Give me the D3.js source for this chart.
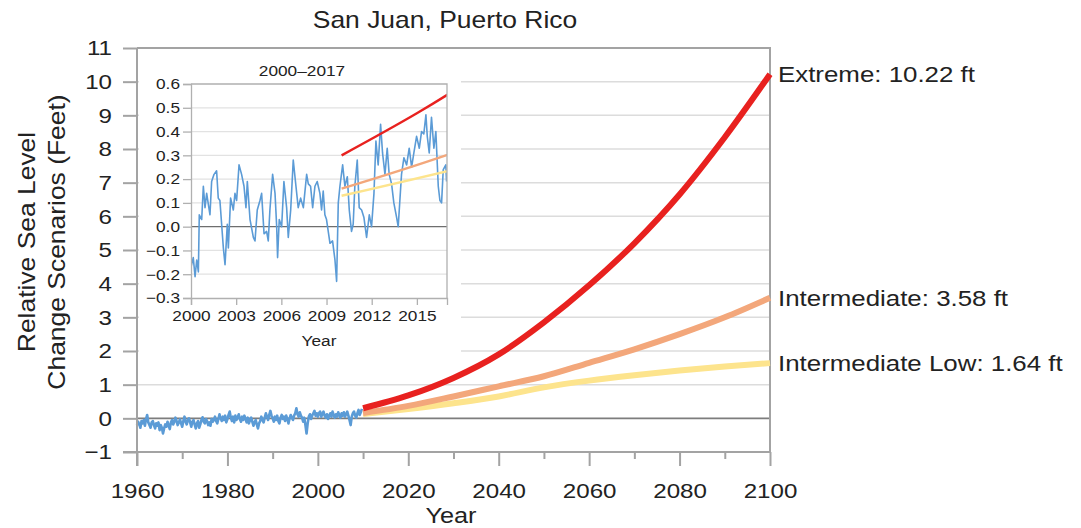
<!DOCTYPE html>
<html>
<head>
<meta charset="utf-8">
<script src="https://cdn.jsdelivr.net/npm/d3@7"></script>
<style>
  body { margin: 0; background: #fff; }
  text { font-family: "Liberation Sans", Arial, Helvetica, sans-serif; fill: #222; }
</style>
</head>
<body>
<svg id="chart" width="1081" height="528"></svg>
<script>
// ---- Data -------------------------------------------------------------
// Observed relative sea level, San Juan (feet), quarterly from 1960.0
const histStart = 1960, histStep = 0.25;
const histFeet = [
  -0.20,-0.10,-0.18,-0.28,-0.08,-0.15,-0.05,-0.22,-0.02,0.10,-0.12,-0.20,-0.28,-0.12,-0.08,-0.20,-0.30,-0.15,-0.22,-0.12,
  -0.35,-0.20,-0.28,-0.45,-0.30,-0.18,-0.25,-0.10,-0.22,-0.32,-0.12,-0.05,-0.18,-0.10,0.02,-0.08,-0.20,-0.12,-0.03,-0.15,
  -0.25,-0.08,0.05,-0.10,-0.18,-0.05,0.00,-0.12,-0.25,-0.10,-0.05,-0.18,-0.30,-0.15,-0.08,-0.28,-0.18,-0.05,0.03,-0.10,
  -0.15,-0.02,-0.08,-0.20,-0.12,-0.22,-0.02,-0.10,-0.05,0.05,-0.08,-0.15,-0.02,0.12,0.00,-0.08,0.05,-0.05,0.08,-0.12,
  -0.02,0.10,0.20,0.02,-0.08,0.05,-0.12,0.08,-0.05,0.02,0.12,-0.02,-0.10,0.05,-0.05,0.08,-0.02,-0.12,0.02,-0.15,
  -0.05,0.02,-0.10,-0.22,-0.12,-0.05,-0.18,-0.30,-0.15,-0.08,0.05,-0.05,-0.12,0.02,0.15,0.05,-0.05,0.10,0.22,0.08,
  0.00,-0.10,0.05,-0.05,0.08,-0.08,-0.15,0.02,0.10,-0.02,0.05,-0.08,0.08,-0.02,-0.15,0.00,0.10,0.02,-0.05,0.08,
  0.15,0.30,0.12,0.05,0.18,0.08,0.02,-0.10,0.02,-0.20,-0.45,-0.15,0.05,0.12,-0.02,0.08,0.15,0.22,0.08,0.15,
  0.05,0.15,0.20,0.05,0.12,0.20,0.08,0.02,0.12,-0.02,0.08,0.15,0.05,0.20,0.10,0.02,0.12,0.05,0.18,0.10,
  0.02,0.15,0.08,0.18,0.05,0.12,0.20,0.08,-0.05,-0.20,0.05,0.15,0.20,0.08,0.02,0.15,0.25,0.10,0.18,0.28
];

// Monthly-scale observed sea level, 2000–2017 (feet)
const recentYear = [2000.00,2000.15,2000.27,2000.38,2000.49,2000.55,2000.71,2000.82,2000.93,2001.04,2001.26,2001.37,2001.53,2001.70,2001.81,2001.92,2002.15,2002.26,2002.41,2002.48,2002.63,2002.81,2002.92,2003.03,2003.19,2003.36,2003.52,2003.65,2003.74,2003.92,2004.14,2004.25,2004.40,2004.58,2004.69,2004.85,2005.02,2005.13,2005.24,2005.42,2005.58,2005.69,2005.75,2005.86,2006.02,2006.17,2006.35,2006.46,2006.62,2006.79,2006.97,2007.12,2007.28,2007.46,2007.68,2007.79,2007.94,2008.08,2008.23,2008.38,2008.56,2008.67,2008.78,2008.89,2009.00,2009.23,2009.40,2009.56,2009.67,2009.78,2009.89,2010.07,2010.22,2010.38,2010.51,2010.66,2010.77,2010.88,2011.04,2011.17,2011.33,2011.48,2011.66,2011.84,2011.99,2012.15,2012.28,2012.43,2012.59,2012.72,2012.88,2013.03,2013.16,2013.32,2013.47,2013.65,2013.76,2013.87,2013.98,2014.14,2014.32,2014.49,2014.65,2014.80,2014.98,2015.16,2015.31,2015.46,2015.60,2015.69,2015.82,2015.97,2016.13,2016.26,2016.42,2016.53,2016.64,2016.75,2016.92,2016.97];
const recentFeet = [-0.17,-0.13,-0.21,-0.14,-0.19,0.05,0.03,0.17,0.08,0.14,0.05,0.19,0.22,0.235,0.12,0.11,-0.09,-0.16,0.01,-0.09,0.12,0.07,0.14,0.11,0.26,0.22,0.17,0.08,0.19,0.03,-0.045,-0.06,0.07,0.11,0.14,-0.03,-0.02,-0.06,0.07,0.22,0.14,0.0,-0.13,0.03,0.0,0.19,0.08,-0.045,0.07,0.28,0.17,0.08,0.12,0.08,0.22,0.18,0.17,0.08,0.17,0.19,0.14,0.07,0.15,0.05,0.03,-0.07,-0.06,-0.14,-0.23,0.10,0.17,0.26,0.17,0.21,0.07,-0.02,0.01,0.17,0.28,0.08,0.07,0.04,-0.045,0.05,0.0,0.14,0.36,0.26,0.43,0.31,0.22,0.33,0.22,0.18,0.10,0.04,0.0,0.11,0.22,0.29,0.26,0.33,0.25,0.31,0.38,0.33,0.40,0.39,0.47,0.38,0.31,0.46,0.33,0.40,0.17,0.11,0.10,0.24,0.26,0.19];

// Sea level rise scenarios (feet)
const scenarioYears    = [2010, 2020, 2030, 2040, 2050, 2060, 2070, 2080, 2090, 2100];
const extremeFeet      = [0.30, 0.68, 1.20, 1.90, 2.85, 3.95, 5.20, 6.65, 8.35, 10.22];
const intermediateFeet = [0.16, 0.37, 0.65, 0.95, 1.25, 1.65, 2.05, 2.50, 3.00, 3.58];
const intLowFeet       = [0.13, 0.28, 0.45, 0.65, 0.92, 1.12, 1.28, 1.42, 1.54, 1.64];
const scenarioNames    = ["Extreme", "Intermediate", "Intermediate Low"];
const scenarioColors   = ["#e8211f", "#f3a77b", "#fde48d"];

// Tick values
const yTicks       = [-1, 0, 1, 2, 3, 4, 5, 6, 7, 8, 9, 10, 11];
const xTicksMajor  = [1960, 1980, 2000, 2020, 2040, 2060, 2080, 2100];
const xTicksMinor  = [1970, 1990, 2010, 2030, 2050, 2070, 2090];
const insetYTicks  = [-0.3, -0.2, -0.1, 0.0, 0.1, 0.2, 0.3, 0.4, 0.5, 0.6];
const insetXTicks  = [2000, 2003, 2006, 2009, 2012, 2015];

// ---- Drawing ----------------------------------------------------------
const SX = 1.15;          // horizontal widening of the typeface
const svg = d3.select("#chart");
const BLUE = "#5b9bd6", AXIS = "#a3a3a3", GRID = "#dcdcdc";

function widen(sel) {
  sel.each(function () {
    const t = d3.select(this);
    const x = +t.attr("x") || 0, y = +t.attr("y") || 0;
    t.attr("x", 0).attr("y", 0).attr("transform", `translate(${x},${y}) scale(${SX},1)`);
  });
}

const x = d3.scaleLinear().domain([1960, 2100]).range([137, 770]);
const y = d3.scaleLinear().domain([-1, 11]).range([452, 48]);

const scenarios = [extremeFeet, intermediateFeet, intLowFeet].map((vals, i) => ({
  name: scenarioNames[i], color: scenarioColors[i],
  pts: scenarioYears.map((yr, j) => [yr, vals[j]])
}));

// gridlines
svg.append("g").selectAll("line").data(yTicks.filter(d => d > 0 && d < 11)).join("line")
  .attr("x1", x(1960)).attr("x2", x(2100))
  .attr("y1", d => y(d)).attr("y2", d => y(d))
  .attr("stroke", GRID).attr("stroke-width", 1.5);

// zero line
svg.append("line").attr("x1", x(1960)).attr("x2", x(2100))
  .attr("y1", y(0)).attr("y2", y(0)).attr("stroke", "#7d7d7d").attr("stroke-width", 1.8);

// frame top & right
svg.append("path")
  .attr("d", `M${x(1960)},${y(11)}H${x(2100)}V${y(-1)}`)
  .attr("fill", "none").attr("stroke", AXIS).attr("stroke-width", 2);

// observed line
const lineMain = d3.line().x(d => x(d[0])).y(d => y(d[1]));
svg.append("path").datum(histFeet.map((v, i) => [histStart + i * histStep, v]))
  .attr("d", lineMain).attr("fill", "none").attr("stroke", BLUE)
  .attr("stroke-width", 2.6).attr("stroke-linejoin", "round");

// scenario curves (drawn low to high so Extreme sits on top)
const curveMain = d3.line().x(d => x(d[0])).y(d => y(d[1])).curve(d3.curveMonotoneX);
scenarios.slice().reverse().forEach(s => {
  svg.append("path").datum(s.pts).attr("d", curveMain)
    .attr("fill", "none").attr("stroke", s.color).attr("stroke-width", 6)
    .attr("stroke-linejoin", "round");
});

// axes
const gy = svg.append("g").attr("transform", `translate(${x(1960)},0)`)
  .call(d3.axisLeft(y).tickValues(yTicks).tickSize(14).tickPadding(11)
    .tickFormat(d => d < 0 ? "\u2212" + Math.abs(d) : d));
const gx = svg.append("g").attr("transform", `translate(0,${y(-1)})`)
  .call(d3.axisBottom(x).tickValues(xTicksMajor).tickSize(14).tickPadding(17).tickFormat(d => d));
svg.append("g").attr("transform", `translate(0,${y(-1)})`)
  .call(d3.axisBottom(x).tickValues(xTicksMinor).tickSize(7).tickFormat(""))
  .call(g => g.select(".domain").remove());
svg.selectAll(".domain, .tick line").attr("stroke", AXIS).attr("stroke-width", 2);
[gy, gx].forEach(g => g.selectAll("text").attr("font-size", 21).attr("fill", "#222").call(widen));
gy.select(".domain").attr("d", `M0,${y(11)}V${y(-1) + 14}`);
gx.select(".domain").attr("d", `M${x(1960) - 14},0H${x(2100)}`);

// titles
svg.append("text").attr("x", 445).attr("y", 28).attr("text-anchor", "middle")
  .attr("font-size", 23).text("San Juan, Puerto Rico").call(widen);
svg.append("text").attr("x", 451).attr("y", 523).attr("text-anchor", "middle")
  .attr("font-size", 22).text("Year").call(widen);
const yTitle = svg.append("g").attr("transform", "translate(35,242) rotate(-90)");
yTitle.append("text").attr("text-anchor", "middle").attr("font-size", 23)
  .attr("transform", `scale(${SX},1)`).text("Relative Sea Level");
yTitle.append("text").attr("y", 30).attr("text-anchor", "middle").attr("font-size", 23)
  .attr("transform", `scale(${SX},1)`).text("Change Scenarios (Feet)");

// end labels
scenarios.forEach((s, i) => {
  const last = s.pts[s.pts.length - 1];
  svg.append("text").attr("x", 778).attr("y", y(last[1])).attr("dy", "0.36em")
    .attr("font-size", 22.5).text(`${s.name}: ${last[1].toFixed(2)} ft`).call(widen);
});

// ---- Inset: 2000–2017 -------------------------------------------------
const inset = svg.append("g");
inset.append("rect").attr("x", 139).attr("y", 49.5).attr("width", 322).attr("height", 316)
  .attr("fill", "#fff");

const ix = d3.scaleLinear().domain([2000, 2017]).range([191, 447]);
const iy = d3.scaleLinear().domain([-0.3, 0.6]).range([298, 84]);

inset.append("g").selectAll("line").data(insetYTicks.filter(d => d > -0.3 && d < 0.6 && d !== 0)).join("line")
  .attr("x1", ix(2000)).attr("x2", ix(2017))
  .attr("y1", d => iy(d)).attr("y2", d => iy(d))
  .attr("stroke", "#e2e2e2").attr("stroke-width", 1.2);
inset.append("line").attr("x1", ix(2000)).attr("x2", ix(2017))
  .attr("y1", iy(0)).attr("y2", iy(0)).attr("stroke", "#6e6e6e").attr("stroke-width", 1.2);

inset.append("clipPath").attr("id", "insetClip").append("rect")
  .attr("x", ix(2000)).attr("y", iy(0.6)).attr("width", ix(2017) - ix(2000))
  .attr("height", iy(-0.3) - iy(0.6));
const plot = inset.append("g").attr("clip-path", "url(#insetClip)");
const lineInset = d3.line().x(d => ix(d[0])).y(d => iy(d[1]));
const curveInset = d3.line().x(d => ix(d[0])).y(d => iy(d[1])).curve(d3.curveMonotoneX);
plot.append("path").datum(recentYear.map((yr, i) => [yr, recentFeet[i]]))
  .attr("d", lineInset).attr("fill", "none").attr("stroke", BLUE)
  .attr("stroke-width", 1.6).attr("stroke-linejoin", "round");
scenarios.slice().reverse().forEach(s => {
  plot.append("path").datum(s.pts).attr("d", curveInset)
    .attr("fill", "none").attr("stroke", s.color).attr("stroke-width", 2.4);
});

inset.append("path").attr("d", `M${ix(2000)},${iy(0.6)}H${ix(2017)}V${iy(-0.3)}`)
  .attr("fill", "none").attr("stroke", "#b0b0b0").attr("stroke-width", 1.3);
const igy = inset.append("g").attr("transform", `translate(${ix(2000)},0)`)
  .call(d3.axisLeft(iy).tickValues(insetYTicks).tickSize(8).tickPadding(3).tickFormat(d3.format(".1f")));
const igx = inset.append("g").attr("transform", `translate(0,${iy(-0.3)})`)
  .call(d3.axisBottom(ix).tickValues(insetXTicks).tickSize(7).tickPadding(5).tickFormat(d => d));
[igy, igx].forEach(g => {
  g.selectAll(".domain, .tick line").attr("stroke", "#b0b0b0").attr("stroke-width", 1.3);
  g.selectAll("text").attr("font-size", 15).attr("fill", "#222").call(widen);
});
inset.append("text").attr("x", 302).attr("y", 76).attr("text-anchor", "middle")
  .attr("font-size", 15).text("2000\u20132017").call(widen);
inset.append("text").attr("x", 319).attr("y", 346).attr("text-anchor", "middle")
  .attr("font-size", 15).text("Year").call(widen);
</script>
</body>
</html>
